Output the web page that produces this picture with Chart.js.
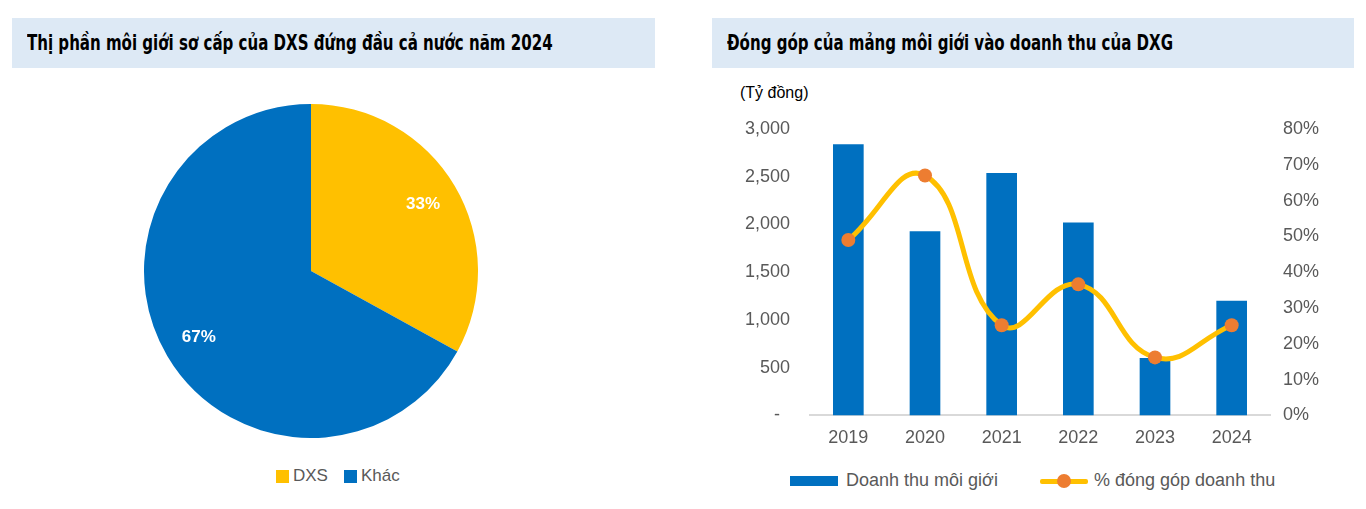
<!DOCTYPE html>
<html>
<head>
<meta charset="utf-8">
<script src="https://cdn.jsdelivr.net/npm/chart.js@4.4.1/dist/chart.umd.min.js"></script>
<style>
  body { margin: 0; width: 1366px; height: 509px; background: #fff; position: relative; overflow: hidden; font-family: "Liberation Sans", Arial, sans-serif; }
  .title { position: absolute; top: 18px; height: 50px; background: #dde9f5; font-family: "DejaVu Sans Condensed", "DejaVu Sans", sans-serif; font-weight: bold; font-size: 22px; line-height: 50px; padding-left: 15px; box-sizing: border-box; color: #000; white-space: nowrap; }
  .title span { display: inline-block; transform: scaleX(0.76); transform-origin: left center; }
  #pieBox { position: absolute; left: 144px; top: 104px; width: 334px; height: 334px; }
  #comboBox { position: absolute; left: 712px; top: 80px; width: 654px; height: 383px; }
  #unit { position: absolute; left: 740px; top: 84px; font-size: 16px; color: #000; }
  .leg { position: absolute; font-size: 18px; color: #595959; display: flex; align-items: center; }
  .sq { width: 13px; height: 13px; margin-right: 4px; }
  .barKey { width: 48px; height: 10px; background: #0070c0; margin-right: 8px; }
  .lineKey { width: 48px; height: 14px; position: relative; margin-right: 6px; }
  .lineKey:before { content: ""; position: absolute; left: 0; right: 0; top: 5px; height: 5px; background: #ffc000; border-radius: 2px; }
  .lineKey:after { content: ""; position: absolute; left: 17px; top: 0; width: 14px; height: 14px; background: #ed7d31; border-radius: 50%; }
</style>
</head>
<body>
<div class="title" style="left:12px;width:643px;"><span>Thị phần môi giới sơ cấp của DXS đứng đầu cả nước năm 2024</span></div>
<div class="title" style="left:712px;width:642px;"><span>Đóng góp của mảng môi giới vào doanh thu của DXG</span></div>
<div id="pieBox"><canvas id="shareChart"></canvas></div>
<div class="leg" style="left:276px;top:466px;font-size:17px;"><span class="sq" style="background:#ffc000"></span>DXS<span class="sq" style="background:#0070c0;margin-left:16px"></span>Khác</div>
<div id="unit">(Tỷ đồng)</div>
<div id="comboBox"><canvas id="revenueChart"></canvas></div>
<div class="leg" style="left:790px;top:470px;"><span class="barKey"></span>Doanh thu môi giới</div>
<div class="leg" style="left:1040px;top:470px;"><span class="lineKey"></span>% đóng góp doanh thu</div>
<script>
const shareLabels = ["DXS", "Khác"];
const shareValues = [33, 67];
const years = ["2019", "2020", "2021", "2022", "2023", "2024"];
const brokerRevenue = [2840, 1930, 2540, 2020, 600, 1200];
const revenueShare = [49, 67, 25.2, 36.6, 16.2, 25.2];

Chart.defaults.font.family = '"Liberation Sans", Arial, sans-serif';
Chart.defaults.color = "#595959";

// nhãn % trên lát bánh
const sliceLabels = {
  id: "sliceLabels",
  afterDatasetsDraw(chart) {
    const ctx = chart.ctx;
    const meta = chart.getDatasetMeta(0);
    ctx.save();
    ctx.fillStyle = "#fff";
    ctx.font = 'bold 17px "Liberation Sans", Arial, sans-serif';
    ctx.textAlign = "center";
    ctx.textBaseline = "middle";
    meta.data.forEach((arc, i) => {
      const p = arc.getProps(["x", "y", "startAngle", "endAngle", "outerRadius"], true);
      const mid = (p.startAngle + p.endAngle) / 2;
      const r = p.outerRadius * 0.78;
      ctx.fillText(shareValues[i] + "%", p.x + Math.cos(mid) * r, p.y + Math.sin(mid) * r);
    });
    ctx.restore();
  },
};

new Chart(document.getElementById("shareChart"), {
  type: "pie",
  data: {
    labels: shareLabels,
    datasets: [{ data: shareValues, backgroundColor: ["#ffc000", "#0070c0"], borderWidth: 0 }],
  },
  options: {
    responsive: true,
    maintainAspectRatio: false,
    animation: false,
    plugins: { tooltip: { enabled: false }, legend: { display: false } },
  },
  plugins: [sliceLabels],
});

new Chart(document.getElementById("revenueChart"), {
  data: {
    labels: years,
    datasets: [
      {
        type: "line",
        label: "% đóng góp doanh thu",
        data: revenueShare,
        yAxisID: "y1",
        borderColor: "#ffc000",
        borderWidth: 5,
        tension: 0.45,
        pointRadius: 7,
        pointBackgroundColor: "#ed7d31",
        pointBorderWidth: 0,
        order: 0,
      },
      {
        type: "bar",
        label: "Doanh thu môi giới",
        data: brokerRevenue,
        yAxisID: "y",
        backgroundColor: "#0070c0",
        categoryPercentage: 0.8,
        barPercentage: 0.5,
        order: 1,
      },
    ],
  },
  options: {
    responsive: true,
    maintainAspectRatio: false,
    animation: false,
    layout: { padding: { top: 49, bottom: 2, left: 0, right: 0 } },
    plugins: { legend: { display: false }, tooltip: { enabled: false } },
    scales: {
      x: {
        grid: { display: false, drawTicks: false },
        border: { color: "#d9d9d9", width: 2 },
        ticks: { padding: 12, font: { size: 18 } },
      },
      y: {
        min: 0,
        max: 3000,
        ticks: {
          stepSize: 500,
          padding: 20,
          font: { size: 18 },
          callback: (v) => (v === 0 ? "-  " : v.toLocaleString("en-US")),
        },
        grid: { display: false, drawTicks: false },
        border: { display: false },
        afterFit: (s) => { s.width = 98; },
      },
      y1: {
        position: "right",
        min: 0,
        max: 80,
        ticks: { stepSize: 10, padding: 13, font: { size: 18 }, callback: (v) => v + "%" },
        grid: { display: false, drawTicks: false },
        border: { display: false },
        afterFit: (s) => { s.width = 96; },
      },
    },
  },
});
</script>
</body>
</html>
